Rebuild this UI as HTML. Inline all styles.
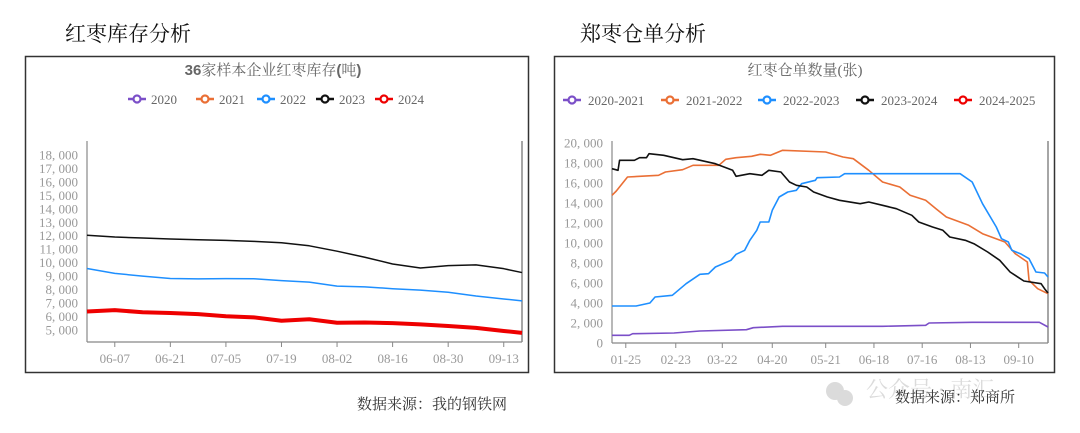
<!DOCTYPE html>
<html><head><meta charset="utf-8">
<style>
html,body{margin:0;padding:0;background:#fff;}
svg{display:block;font-family:"Liberation Serif","Noto Serif CJK SC","Noto Sans CJK SC",serif;}
</style></head>
<body>
<svg id="root" width="1080" height="433" viewBox="0 0 1080 433">
  <text x="65" y="41" font-size="21" fill="#111">红枣库存分析</text>
  <text x="580" y="41" font-size="21" fill="#111">郑枣仓单分析</text>
  <rect x="25.5" y="56.5" width="503" height="316" fill="#fff" stroke="#333" stroke-width="1.5"/>
  <rect x="554.5" y="56.5" width="500" height="316" fill="#fff" stroke="#333" stroke-width="1.5"/>
  <text x="273" y="75" font-size="15" fill="#666" text-anchor="middle"><tspan font-weight="bold" font-family="Liberation Sans, sans-serif">36</tspan>家样本企业红枣库存<tspan font-weight="bold" font-family="Liberation Sans, sans-serif">(</tspan>吨<tspan font-weight="bold" font-family="Liberation Sans, sans-serif">)</tspan></text>
  <text x="805" y="75" font-size="15" fill="#666" text-anchor="middle">红枣仓单数量(张)</text>
  <g id="leftChart"></g>
  <g id="rightChart"></g>
  <text x="357" y="409" font-size="15" fill="#333">数据来源：我的钢铁网</text>
  <g opacity="0.35">
    <circle cx="835" cy="391" r="9" fill="#999"/>
    <circle cx="845" cy="398" r="8" fill="#999"/>
    <text x="866" y="397" font-size="22" fill="#999">公众号 · 南汇</text>
  </g>
  <text x="895" y="402" font-size="15" fill="#333">数据来源：郑商所</text>
</svg>
<script>
// ---------- Left chart data ----------
const leftDays = [0,7,14,21,28,35,42,49,56,63,70,77,84,91,98,105,109.6];
const leftDateLabels = ["06-07","06-21","07-05","07-19","08-02","08-16","08-30","09-13"];
const leftLabelDays = [7,21,35,49,63,77,91,105];
const leftYTicks = [5000,6000,7000,8000,9000,10000,11000,12000,13000,14000,15000,16000,17000,18000];
const leftSeriesNames = ["2020","2021","2022","2023","2024"];
const inv2023 = [12035,11900,11830,11760,11700,11650,11580,11480,11250,10850,10400,9900,9600,9780,9830,9550,9260];
const inv2022 = [9560,9200,9000,8820,8790,8810,8800,8660,8550,8250,8200,8060,7960,7800,7520,7300,7160];
const inv2024 = [6370,6470,6310,6260,6170,6010,5930,5680,5790,5530,5550,5500,5410,5290,5150,4920,4780];

// ---------- Right chart data ----------
const rightLabels = ["01-25","02-23","03-22","04-20","05-21","06-18","07-16","08-13","09-10"];
const rightLabelDays = [8,37,64,93,124,152,180,208,236];
const rightYTicks = [0,2000,4000,6000,8000,10000,12000,14000,16000,18000,20000];
const rightSeriesNames = ["2020-2021","2021-2022","2022-2023","2023-2024","2024-2025"];
const purpleX = [0,10,12,36,51,78,82,99,122,157,182,184,209,248,253];
const purpleY = [770,770,930,1000,1200,1330,1530,1670,1670,1670,1770,2000,2070,2070,1600];
const orangeX = [0,2.5,9,27,31,41,47,62,66,72,81,86,92,99,124,134,140,149,157,167,173,182,188,194,207,215,228,234,241,242,247,253];
const orangeY = [14770,15200,16600,16770,17100,17330,17770,17770,18370,18530,18670,18870,18770,19270,19100,18600,18430,17270,16100,15600,14770,14270,13430,12600,11770,10930,10100,8930,8100,6270,5430,4930];
const blueX = [0,14,22,25,35,43,51,56,60,69,72,77,80,84,86,91,93,97,102,107,110,118,119,132,135,202,209,215,223,226,230,232,237,242,246,251,253];
const blueY = [3700,3700,4000,4600,4770,5930,6870,6930,7600,8270,8870,9270,10270,11270,12100,12100,13270,14600,15100,15270,15930,16270,16530,16600,16930,16930,16100,13930,11600,10430,10100,9270,8930,8430,7100,7000,6600];
const blackX = [0,3.5,4.4,13,16,20,21.5,30,41,47,60,70,72,80,87,91,98,103,107,113,117,125,132,144,149,157,165,174,178,186,192,196,205,210,218,225,231,239,249,251,253];
const blackY = [17430,17270,18270,18270,18530,18530,18930,18770,18330,18430,17930,17270,16670,16930,16770,17270,17100,16100,15770,15600,15100,14600,14270,13930,14100,13770,13430,12770,12100,11600,11270,10600,10270,9930,9100,8270,7100,6200,5930,5430,5000];

const NS="http://www.w3.org/2000/svg";
function mk(tag, attrs, parent){const e=document.createElementNS(NS,tag);for(const k in attrs)e.setAttribute(k,attrs[k]);parent.appendChild(e);return e;}
function fmt(v){return v===0?"0":v.toLocaleString("en-US").replace(",",", ");}
const numFont='"Liberation Serif","Noto Serif CJK SC",serif';

// ---- Left chart ----
(function(){
  const g=document.getElementById('leftChart');
  const x0=87,x1=522,yTop=141,yBot=342, dMin=0,dMax=109.6, vMin=4100, vMax=19040;
  const sx=d=>x0+(d-dMin)/(dMax-dMin)*(x1-x0);
  const sy=v=>yBot-(v-vMin)/(vMax-vMin)*(yBot-yTop);
  mk('line',{x1:x0,y1:yTop,x2:x0,y2:yBot,stroke:'#888','stroke-width':1.2},g);
  mk('line',{x1:x1,y1:yTop,x2:x1,y2:yBot,stroke:'#888','stroke-width':1.5},g);
  mk('line',{x1:x0,y1:yBot,x2:x1,y2:yBot,stroke:'#888','stroke-width':1.2},g);
  leftYTicks.forEach(v=>{
    const t=mk('text',{x:x0-9,y:sy(v)+4.5,'font-size':13,fill:'#999','text-anchor':'end','font-family':numFont},g);
    t.textContent=fmt(v);
    
    
  });
  leftLabelDays.forEach((d,i)=>{
    mk('line',{x1:sx(d),y1:yBot,x2:sx(d),y2:yBot+5,stroke:'#888'},g);
    const t=mk('text',{x:sx(d),y:yBot+21,'font-size':13,fill:'#999','text-anchor':'middle','font-family':numFont},g);
    t.textContent=leftDateLabels[i];
    
    
  });
  const ser=[[inv2023,'#111',1.5,'line-2023'],[inv2022,'#1e8fff',1.5,'line-2022'],[inv2024,'#ee0000',4,'line-2024']];
  ser.forEach(s=>{
    const p=mk('polyline',{points:s[0].map((v,i)=>sx(leftDays[i])+','+sy(v)).join(' '),fill:'none',stroke:s[1],'stroke-width':s[2],'stroke-linejoin':'round'},g);
    
    
  });
  const cols=['#7b4fc8','#ea6f35','#1e8fff','#111','#ee0000'];
  let lx=[128,196,257,316,375];
  leftSeriesNames.forEach((n,i)=>{
    const lg=mk('g',{},g);
    
    
    mk('line',{x1:lx[i],y1:99,x2:lx[i]+18,y2:99,stroke:cols[i],'stroke-width':2.5},lg);
    mk('circle',{cx:lx[i]+9,cy:99,r:3.5,fill:'#fff',stroke:cols[i],'stroke-width':2.2},lg);
    const t=mk('text',{x:lx[i]+23,y:104,'font-size':13,fill:'#666','font-family':numFont},lg);
    t.textContent=n;
  });
})();

// ---- Right chart ----
(function(){
  const g=document.getElementById('rightChart');
  const x0=612,x1=1048,yTop=141,yBot=343,dMax=253,vMax=20000;
  const sx=d=>x0+d/dMax*(x1-x0);
  const sy=v=>yBot-v/vMax*(yBot-143);
  mk('line',{x1:x0,y1:yTop,x2:x0,y2:yBot,stroke:'#888','stroke-width':1.2},g);
  mk('line',{x1:x1,y1:yTop,x2:x1,y2:yBot,stroke:'#888','stroke-width':1.5},g);
  mk('line',{x1:x0,y1:yBot,x2:x1,y2:yBot,stroke:'#888','stroke-width':1.2},g);
  rightYTicks.forEach(v=>{
    const t=mk('text',{x:x0-9,y:sy(v)+4.5,'font-size':13,fill:'#999','text-anchor':'end','font-family':numFont},g);
    t.textContent=fmt(v);
    
    
  });
  rightLabelDays.forEach((d,i)=>{
    mk('line',{x1:sx(d),y1:yBot,x2:sx(d),y2:yBot+5,stroke:'#888'},g);
    const t=mk('text',{x:sx(d),y:yBot+21,'font-size':13,fill:'#999','text-anchor':'middle','font-family':numFont},g);
    t.textContent=rightLabels[i];
    
    
  });
  const ser=[[purpleX,purpleY,'#7b4fc8','line-2020-2021'],[orangeX,orangeY,'#ea6f35','line-2021-2022'],[blueX,blueY,'#1e8fff','line-2022-2023'],[blackX,blackY,'#111','line-2023-2024']];
  ser.forEach(s=>{
    const p=mk('polyline',{points:s[1].map((v,i)=>sx(s[0][i])+','+sy(v)).join(' '),fill:'none',stroke:s[2],'stroke-width':1.6,'stroke-linejoin':'round'},g);
    
    
  });
  const cols=['#7b4fc8','#ea6f35','#1e8fff','#111','#ee0000'];
  const lx=[563,661,758,856,954];
  rightSeriesNames.forEach((n,i)=>{
    const lg=mk('g',{},g);
    
    
    mk('line',{x1:lx[i],y1:100,x2:lx[i]+18,y2:100,stroke:cols[i],'stroke-width':2.5},lg);
    mk('circle',{cx:lx[i]+9,cy:100,r:3.5,fill:'#fff',stroke:cols[i],'stroke-width':2.2},lg);
    const t=mk('text',{x:lx[i]+25,y:105,'font-size':13,fill:'#666','font-family':numFont},lg);
    t.textContent=n;
  });
})();
</script>
</body></html>
